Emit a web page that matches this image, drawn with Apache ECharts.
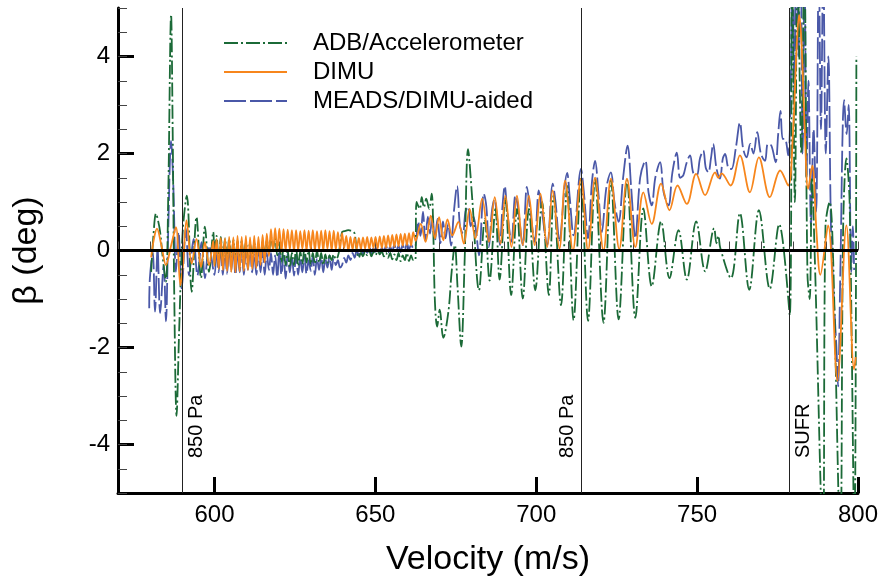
<!DOCTYPE html>
<html>
<head>
<meta charset="utf-8">
<script src="https://cdn.jsdelivr.net/npm/echarts@6/dist/echarts.min.js"></script>
<style>html,body{margin:0;padding:0;background:#fff}#chart{width:881px;height:582px}</style>
</head>
<body>
<div id="chart"></div>
<script>
// ---------- data (velocity m/s, beta deg) ----------
const seriesNames = ['ADB/Accelerometer', 'DIMU', 'MEADS/DIMU-aided'];
const xMajorTicks = [600, 650, 700, 750, 800];
const yMajorTicks = [-4, -2, 0, 2, 4];
const refLineV = [590, 714, 778.7];
const refLineText = ['850 Pa', '850 Pa', 'SUFR'];

// dense middle section sampled at 600 + 0.65*i
const denseStart = 600, denseStep = 0.65;

const adbEarly = [[580.3,-0.44],[581.0,0.3],[581.8,0.76],[582.5,0.6],[583.1,0.38],[584.0,-0.2],[584.9,-0.64],[585.6,1.07],[586.5,4.86],[587.0,2.43],[587.5,-0.99],[588.2,-3.41],[589.0,-1.67],[590.1,0.38],[591.4,1.13],[592.9,-0.85],[594.4,0.69],[595.8,-0.57],[597.0,0.49],[598.3,-0.44],[599.6,0.38]];
const adbDense = [-0.3,0.3,-0.28,0.28,-0.25,0.25,-0.22,0.24,-0.2,0.22,-0.2,0.2,-0.18,0.2,-0.15,0.18,-0.18,0.15,-0.15,0.16,-0.12,0.14,-0.15,0.18,-0.1,0.22,
 -0.05,0.28,0.05,0.25,-0.1,0.15,-0.25,0.05,-0.3,0.0,-0.35,-0.05,-0.3,0.05,-0.32,-0.02,-0.28,0.05,-0.25,0.0,-0.3,-0.05,-0.28,0.0,-0.25,-0.05,-0.3,-0.08,-0.25,-0.1,-0.2,-0.08,-0.18,-0.12,0.1,
 0.38,0.4,0.41,0.42,0.41,0.4,0.35,
 0.0,-0.15,-0.05,-0.12,-0.02,-0.1,0.0,-0.12,-0.04,-0.1,0.0,-0.08,-0.02,-0.12,-0.05,-0.15,-0.05,-0.18,-0.08,-0.2,-0.05,-0.22,-0.1,-0.2,-0.05,-0.22,-0.1,-0.2];
const adbLate = [[662.4,-0.2],[662.8,1.0],[663.8,0.86],[664.4,1.1],[665.1,0.89],[665.8,1.07],[666.7,0.86],[667.5,1.17],[668.0,0.38],[668.5,-1.05],[669.2,-1.57],[670.0,-1.22],[671.1,-1.8],[672.7,-1.26],[673.7,-0.44],[674.7,0.11],[675.5,-0.71],[676.7,-1.98],[677.7,-0.3],[678.8,2.09],[680.1,1.07],[682.2,-0.82],[684.0,0.65],[685.5,-0.62],[687.3,0.86],[688.6,-0.6],[690.4,1.07],[692.2,-0.92],[694.0,0.86],[695.8,-0.99],[697.7,0.86],[699.7,-0.82],[701.8,1.0],[703.9,-0.92],[705.4,1.13],[707.7,-1.13],[709.6,1.33],[711.6,-1.44],[713.9,1.48],[716.1,-1.45],[718.3,1.48],[720.9,-1.49],[723.2,1.45],[725.6,-1.42],[728.2,1.45],[730.8,-1.39],[733.3,0.87],[735.9,-0.74],[738.8,0.6],[741.4,-0.57],[744.2,0.42],[746.8,-0.6],[749.7,0.6],[752.5,-0.43],[755.3,0.46],[756.0,0.15],[756.6,0.3],[757.2,0.05],[760.5,-0.57],[763.3,0.77],[766.2,-0.81],[769.2,0.83],[772.6,-0.79],[775.5,0.54],[778.8,-1.33],[779.5,6],[780.4,1.0],[781.2,6],[782.4,2.0],[783.3,6],[784.3,-0.5],[785.0,-1.0],[785.7,1.5],[786.6,-0.2],[789.1,-6],[789.9,0.5],[791.2,1.0],[792.2,0.0],[794.5,-6],[795.4,0.5],[796.4,1.9],[797.4,1.0],[798.9,-6],[799.5,4.0]];

const dimuEarly = [[580.3,-0.14],[581.2,0.25],[582.1,0.45],[583.5,0.1],[584.9,-0.3],[586.5,0.1],[588.0,0.48],[589.4,-0.72],[590.2,-0.3],[591.3,0.62],[592.9,-0.27],[594.4,0.24],[595.8,-0.34],[597.0,0.17],[598.3,-0.3],[599.6,0.2]];
const dimuDense = [-0.32,0.24,-0.38,0.26,-0.4,0.25,-0.42,0.28,-0.44,0.27,-0.45,0.3,-0.43,0.28,-0.42,0.3,-0.4,0.27,-0.38,0.3,-0.36,0.28,-0.3,0.32,-0.25,0.35,
 -0.12,0.44,-0.02,0.46,0.0,0.45,-0.03,0.44,0.0,0.43,0.02,0.42,-0.02,0.42,0.0,0.4,0.03,0.42,0.0,0.41,0.02,0.42,0.0,0.4,0.02,0.41,0.0,0.42,0.03,0.4,0.0,0.41,0.02,0.38,0.03,
 0.36,0.05,0.3,-0.02,0.28,0.02,0.27,0.04,0.26,0.03,0.27,0.04,0.28,0.03,0.27,0.05,0.28,0.04,0.29,0.05,0.3,0.06,0.31,0.07,0.32,0.08,0.33,0.09,0.34,0.1,0.35,0.11,0.36,0.1,0.38];
const dimuLate = [[662.5,0.2],[664.1,0.55],[665.6,0.18],[667.2,0.72],[668.5,0.25],[669.8,0.69],[671.1,0.21],[672.4,0.64],[673.9,0.31],[675.8,0.59],[677.5,0.14],[679.3,0.86],[681.1,0.25],[683.2,1.07],[685.3,0.18],[687.1,1.1],[688.9,0.14],[690.4,1.13],[692.3,0.07],[694.0,1.13],[695.8,0.11],[697.7,1.13],[699.5,0.11],[701.3,1.17],[703.4,0.07],[705.1,1.24],[707.2,0.04],[709.0,1.44],[711.4,0.0],[713.9,1.48],[716.1,0.0],[718.3,1.5],[720.9,0.0],[723.2,1.48],[725.8,0.03],[728.2,1.48],[730.8,0.07],[733.3,1.2],[735.9,0.55],[738.8,1.38],[741.4,0.83],[743.9,1.34],[746.8,0.96],[749.7,1.58],[752.5,1.14],[755.6,1.61],[756.6,1.5],[757.6,1.59],[760.4,1.34],[763.3,1.96],[766.4,1.2],[769.2,1.92],[772.6,1.1],[775.8,1.65],[778.3,1.34],[779.8,2.43],[780.9,4.14],[781.7,4.86],[782.4,4.35],[783.5,2.43],[784.5,1.27],[785.8,1.75],[787.1,0.39],[788.3,-0.5],[790.7,0.52],[793.6,-2.69],[796.4,0.52],[798.8,-2.45],[799.3,-2.2]];

const meadsEarly = [[579.7,-1.19],[579.9,-0.58],[580.8,-0.03],[581.5,-1.26],[582.3,0.03],[583.1,-1.29],[584.2,-0.3],[584.9,-1.46],[585.6,0.38],[586.5,2.26],[587.2,1.34],[588.0,-0.44],[588.8,0.38],[589.8,-0.78],[591.1,0.45],[592.1,-0.51],[593.5,0.24],[594.7,-0.51],[596.0,0.17],[597.0,-0.57],[598.3,0.1]];
const meadsDense = [-0.5,0.05,-0.45,0.1,-0.5,0.0,-0.48,0.08,-0.42,0.05,-0.5,-0.02,-0.45,0.05,-0.5,0.0,-0.4,0.05,-0.45,-0.05,-0.5,0.0,-0.45,0.02,-0.5,-0.05,
 -0.4,-0.05,-0.5,-0.1,-0.55,0.0,-0.5,-0.1,-0.58,-0.05,-0.45,-0.12,-0.52,-0.08,-0.5,-0.15,-0.45,-0.1,-0.48,-0.2,-0.42,-0.1,-0.5,-0.15,-0.4,-0.12,-0.45,-0.18,-0.35,-0.1,-0.4,-0.15,-0.3,-0.2,-0.35,
 -0.3,-0.15,-0.25,-0.1,-0.2,-0.05,-0.15,0.0,-0.1,0.05,-0.08,0.03,-0.05,0.08,-0.06,0.05,-0.03,0.08,-0.05,0.06,-0.02,0.1,-0.04,0.08,-0.02,0.12,0.0,0.1,-0.03,0.12,0.0,0.15,0.02,0.12,0.05];
const meadsLate = [[662.5,0.1],[663.3,0.6],[664.0,0.3],[664.8,0.8],[665.5,0.2],[666.3,0.7],[667.0,0.35],[667.7,0.75],[668.5,0.2],[669.3,0.65],[670.2,0.15],[671.0,0.6],[671.8,0.25],[672.6,0.55],[673.5,0.1],[674.4,0.8],[675.4,1.33],[676.3,0.5],[677.2,0.35],[678.0,0.8],[678.8,0.9],[679.6,0.5],[680.5,0.7],[681.3,0.4],[682.2,-0.1],[683.7,1.17],[684.5,0.9],[685.3,0.07],[686.2,0.8],[687.0,1.05],[687.8,0.7],[688.7,0.11],[689.5,0.9],[690.2,1.33],[691.0,0.8],[692.3,0.18],[693.5,1.13],[694.3,0.9],[695.8,0.11],[697.1,1.31],[698.0,0.9],[699.5,0.18],[700.8,1.24],[701.6,0.9],[703.4,0.11],[705.1,1.38],[706.0,1.0],[707.2,0.18],[708.8,1.3],[709.6,1.6],[710.4,1.1],[711.6,0.31],[713.9,1.68],[714.8,1.2],[716.1,0.25],[717.3,1.4],[718.3,1.85],[719.3,1.2],[720.4,0.38],[721.8,1.3],[723.2,1.61],[724.3,1.0],[725.6,0.59],[727.0,1.5],[728.4,2.16],[729.5,1.3],[730.8,0.25],[732.3,1.5],[733.9,1.85],[734.9,1.2],[735.9,0.93],[737.0,1.5],[738.5,1.82],[739.6,1.2],[741.1,0.93],[742.3,1.6],[743.7,2.02],[744.7,1.5],[745.7,1.55],[746.7,1.8],[747.8,1.96],[748.8,1.6],[749.9,1.55],[750.9,1.9],[751.9,2.06],[752.7,1.7],[753.5,1.61],[754.3,1.9],[755.0,2.2],[756.0,1.7],[757.1,1.48],[758.0,1.9],[758.7,1.99],[759.7,1.7],[760.7,1.68],[762.0,2.1],[763.3,2.64],[764.3,2.1],[765.4,1.92],[766.5,2.2],[767.5,2.0],[768.7,2.44],[769.8,2.0],[771.1,1.85],[772.0,2.2],[773.1,2.16],[774.4,1.82],[775.2,2.4],[775.9,2.88],[776.6,2.3],[777.3,2.3],[778.3,1.96],[779.0,3.0],[779.6,6.0],[780.2,3.2],[780.8,6.5],[781.5,4.0],[782.1,7.0],[782.8,2.0],[783.4,6.0],[784.0,1.5],[784.6,3.5],[785.4,0.5],[786.2,2.5],[787.0,0.8],[787.8,6.0],[788.5,2.5],[789.2,6.0],[790.0,2.0],[790.8,4.0],[791.6,0.5],[792.5,-1.0],[793.3,-2.0],[793.8,-2.8],[794.5,-0.5],[795.7,3.1],[796.5,2.4],[797.1,3.0],[797.9,-0.44],[798.4,0.5],[798.8,-0.4]];

// ---------- build ----------
function build(early, dense, late) {
  const d = early.slice();
  dense.forEach((y, i) => d.push([+(denseStart + denseStep * i).toFixed(3), y]));
  return d.concat(late);
}
const FONT = "'Liberation Sans', Arial, Helvetica, sans-serif";
const chart = echarts.init(document.getElementById('chart'), null, {renderer: 'canvas'});

const baseLine = {type: 'line', showSymbol: false, symbol: 'none', smooth: 0.35, animation: false, xAxisIndex: 0, yAxisIndex: 0};

chart.setOption({
  backgroundColor: '#fff',
  animation: false,
  grid: {left: 118, right: 21, top: 8, bottom: 87, containLabel: false},
  legend: {
    data: seriesNames, orient: 'vertical', left: 218, top: 26,
    itemWidth: 63, itemHeight: 14, itemGap: 5,
    itemStyle: {opacity: 0},
    textStyle: {fontFamily: FONT, fontSize: 24, color: '#000', padding: [0, 0, 0, 21]}
  },
  xAxis: [
    {type: 'value', min: 570, max: 800, position: 'bottom',
     name: 'Velocity (m/s)', nameLocation: 'middle', nameGap: 50,
     nameTextStyle: {fontFamily: FONT, fontSize: 34, color: '#000'},
     axisLine: {show: true, onZero: false, lineStyle: {color: '#000', width: 3}},
     axisTick: {show: true, inside: true, length: 16, customValues: xMajorTicks, lineStyle: {color: '#000', width: 3}},
     axisLabel: {customValues: xMajorTicks, fontFamily: FONT, fontSize: 24, color: '#000', margin: 10},
     splitLine: {show: false}},
    {type: 'value', min: 570, max: 800, interval: 10, position: 'bottom',
     axisLine: {show: false}, axisTick: {show: true, inside: true, length: 9, lineStyle: {color: '#444', width: 1}},
     axisLabel: {show: false}, splitLine: {show: false}}
  ],
  yAxis: [
    {type: 'value', min: -5, max: 5, position: 'left',
     name: 'β (deg)', nameLocation: 'middle', nameGap: 74, nameRotate: 90,
     nameTextStyle: {fontFamily: FONT, fontSize: 34, color: '#000'},
     axisLine: {show: true, onZero: false, lineStyle: {color: '#000', width: 3}},
     axisTick: {show: true, inside: true, length: 16, customValues: yMajorTicks, lineStyle: {color: '#000', width: 3}},
     axisLabel: {customValues: yMajorTicks, fontFamily: FONT, fontSize: 24, color: '#000', margin: 8},
     splitLine: {show: false}},
    {type: 'value', min: -5, max: 5, interval: 0.5, position: 'left',
     axisLine: {show: false}, axisTick: {show: true, inside: true, length: 9, lineStyle: {color: '#444', width: 1}},
     axisLabel: {show: false}, splitLine: {show: false}}
  ],
  series: [
    Object.assign({}, baseLine, {name: seriesNames[2], z: 2, data: build(meadsEarly, meadsDense, meadsLate),
      itemStyle: {color: '#4a58a8', opacity: 0}, lineStyle: {color: '#4a58a8', width: 1.8, type: [22, 4]}}),
    Object.assign({}, baseLine, {name: seriesNames[0], z: 3, data: build(adbEarly, adbDense, adbLate),
      itemStyle: {color: '#1b6a37', opacity: 0}, lineStyle: {color: '#1b6a37', width: 1.8, type: [14, 3, 2, 3]}}),
    Object.assign({}, baseLine, {name: seriesNames[1], z: 4, data: build(dimuEarly, dimuDense, dimuLate),
      itemStyle: {color: '#f7861c', opacity: 0}, lineStyle: {color: '#f7861c', width: 1.8}}),
    {type: 'line', name: 'refs', data: [], z: 10, silent: true, animation: false,
     markLine: {
       silent: true, symbol: ['none', 'none'], animation: false,
       data: [
         {yAxis: 0, lineStyle: {color: '#000', width: 3, type: 'solid'}, label: {show: false}}
       ].concat(refLineV.map((v, i) => ({
         xAxis: v,
         lineStyle: {color: '#222', width: 1, type: 'solid'},
         label: {show: true, formatter: refLineText[i],
           position: i === 1 ? 'insideStartTop' : 'insideStartBottom',
           distance: [35, 4], fontFamily: FONT, fontSize: 20, color: '#000'}
       })))
     }}
  ]
});
</script>
</body>
</html>
